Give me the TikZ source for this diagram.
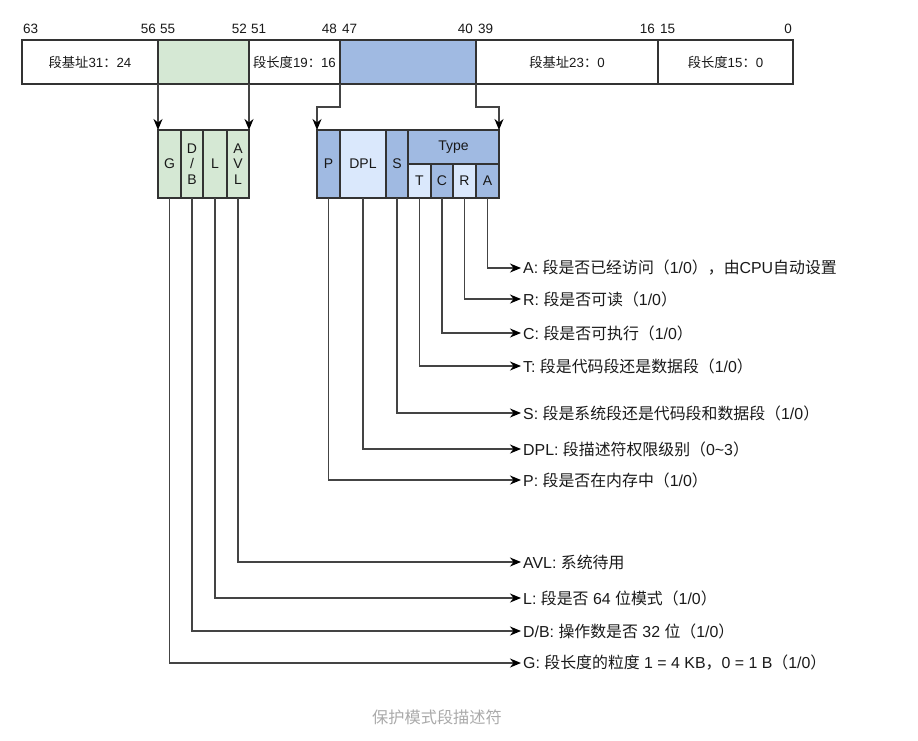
\documentclass[tikz,border=0pt]{standalone}
\usepackage{fontspec}
\setmainfont{Liberation Sans}
\newfontfamily\cjk{Noto Sans CJK SC}
\usetikzlibrary{arrows.meta}
\definecolor{gfill}{HTML}{D5E8D4}
\definecolor{bfill}{HTML}{A0BAE2}
\definecolor{lfill}{HTML}{DAE8FC}
\definecolor{bord}{HTML}{333333}
\definecolor{conn}{HTML}{444444}
\definecolor{capgray}{HTML}{AAAAAA}
\tikzset{
  seg/.style={draw=bord, line width=1.3pt, inner sep=0pt, outer sep=0pt, anchor=north west,
    font=\fontsize{14}{15.5}\selectfont, align=center, text=black!90},
  topseg/.style={seg, font=\fontsize{13.3}{15}\selectfont},
  bitnum/.style={inner sep=0pt, font=\fontsize{13.5}{15}\selectfont, text=black!90},
  lbl/.style={inner xsep=2pt, inner ysep=0pt, anchor=west, font=\fontsize{15.9}{17}\selectfont, text=black!90},
  arr/.style={draw=conn, line width=1.3pt, -{Stealth[length=11pt,width=9pt,inset=3.5pt,color=black]}},
}
\begin{document}
\begin{tikzpicture}[x=1pt,y=-1pt]
\useasboundingbox (0,0) rectangle (918,740);
% top bar
\node[topseg, minimum width=136, minimum height=44] (s1) at (22,40) {{\cjk 段基址}31{\cjk ：}24};
\node[topseg, fill=gfill, minimum width=91, minimum height=44] (s2) at (158,40) {};
\node[topseg, minimum width=91, minimum height=44] (s3) at (249,40) {{\cjk 段长度}19{\cjk ：}16};
\node[topseg, fill=bfill, minimum width=136, minimum height=44] (s4) at (340,40) {};
\node[topseg, minimum width=182, minimum height=44] (s5) at (476,40) {{\cjk 段基址}23{\cjk ：}0};
\node[topseg, minimum width=135, minimum height=44] (s6) at (658,40) {{\cjk 段长度}15{\cjk ：}0};
% bit numbers
\node[bitnum, anchor=west] (b63) at (23,29) {63};
\node[bitnum, anchor=east] (b56) at (156,29) {56};
\node[bitnum, anchor=west] (b55) at (160,29) {55};
\node[bitnum, anchor=east] (b52) at (247,29) {52};
\node[bitnum, anchor=west] (b51) at (251,29) {51};
\node[bitnum, anchor=east] (b48) at (337,29) {48};
\node[bitnum, anchor=west] (b47) at (342,29) {47};
\node[bitnum, anchor=east] (b40) at (473,29) {40};
\node[bitnum, anchor=west] (b39) at (478,29) {39};
\node[bitnum, anchor=east] (b16) at (655,29) {16};
\node[bitnum, anchor=west] (b15) at (660,29) {15};
\node[bitnum, anchor=east] (b0) at (792,29) {0};
% green group
\node[seg, fill=gfill, minimum width=23, minimum height=68] (G) at (158,130) {G};
\node[seg, fill=gfill, minimum width=22, minimum height=68] (DB) at (181,130) {D\\/\\B};
\node[seg, fill=gfill, minimum width=24, minimum height=68] (L) at (203,130) {L};
\node[seg, fill=gfill, minimum width=22, minimum height=68] (AVL) at (227,130) {A\\V\\L};
% blue group
\node[seg, fill=bfill, minimum width=23, minimum height=68] (P) at (317,130) {P};
\node[seg, fill=lfill, minimum width=46, minimum height=68] (DPL) at (340,130) {DPL};
\node[seg, fill=bfill, minimum width=22, minimum height=68] (S) at (386,130) {S};
\node[seg, fill=bfill, minimum width=91, minimum height=34] (Type) at (408,130) {Type};
\node[seg, fill=lfill, minimum width=23, minimum height=34] (T) at (408,164) {T};
\node[seg, fill=bfill, minimum width=22, minimum height=34] (C) at (431,164) {C};
\node[seg, fill=lfill, minimum width=23, minimum height=34] (R) at (453,164) {R};
\node[seg, fill=bfill, minimum width=23, minimum height=34] (A) at (476,164) {A};
% arrows from top bar
\coordinate (gl) at (158,84);
\coordinate (gr) at (249,84);
\coordinate (bl) at (340,84);
\coordinate (br) at (476,84);
\draw[arr] (gl) -- (G.north west);
\draw[arr] (gr) -- (AVL.north east);
\draw[arr] (bl) -- (340,107) -| (P.north west);
\draw[arr] (br) -- (476,107) -| (Type.north east);
% labels
\node[lbl] (lA) at (521,268) {A: {\cjk 段是否已经访问（}1/0{\cjk ），由}CPU{\cjk 自动设置}};
\node[lbl] (lR) at (521,299) {R: {\cjk 段是否可读（}1/0{\cjk ）}};
\node[lbl] (lC) at (521,333) {C: {\cjk 段是否可执行（}1/0{\cjk ）}};
\node[lbl] (lT) at (521,366) {T: {\cjk 段是代码段还是数据段（}1/0{\cjk ）}};
\node[lbl] (lS) at (521,413) {S: {\cjk 段是系统段还是代码段和数据段（}1/0{\cjk ）}};
\node[lbl] (lDPL) at (521,449) {DPL: {\cjk 段描述符权限级别（}0\textasciitilde3{\cjk ）}};
\node[lbl] (lP) at (521,480) {P: {\cjk 段是否在内存中（}1/0{\cjk ）}};
\node[lbl] (lAVL) at (521,562) {AVL: {\cjk 系统待用}};
\node[lbl] (lL) at (521,598) {L: {\cjk 段是否} 64 {\cjk 位模式（}1/0{\cjk ）}};
\node[lbl] (lDB) at (521,631) {D/B: {\cjk 操作数是否} 32 {\cjk 位（}1/0{\cjk ）}};
\node[lbl] (lG) at (521,663) {G: {\cjk 段长度的粒度} 1 = 4 KB{\cjk ，}0 = 1 B{\cjk （}1/0{\cjk ）}};
% connectors
\draw[arr] (A.south) |- (lA.west);
\draw[arr] (R.south) |- (lR.west);
\draw[arr] (C.south) |- (lC.west);
\draw[arr] (T.south) |- (lT.west);
\draw[arr] (S.south) |- (lS.west);
\draw[arr] (DPL.south) |- (lDPL.west);
\draw[arr] (P.south) |- (lP.west);
\draw[arr] (AVL.south) |- (lAVL.west);
\draw[arr] (L.south) |- (lL.west);
\draw[arr] (DB.south) |- (lDB.west);
\draw[arr] (G.south) |- (lG.west);
% caption
\node[inner sep=0pt, text=capgray, font=\cjk\fontsize{16.2}{18}\selectfont] (cap) at (437,717) {保护模式段描述符};
\end{tikzpicture}
\end{document}
